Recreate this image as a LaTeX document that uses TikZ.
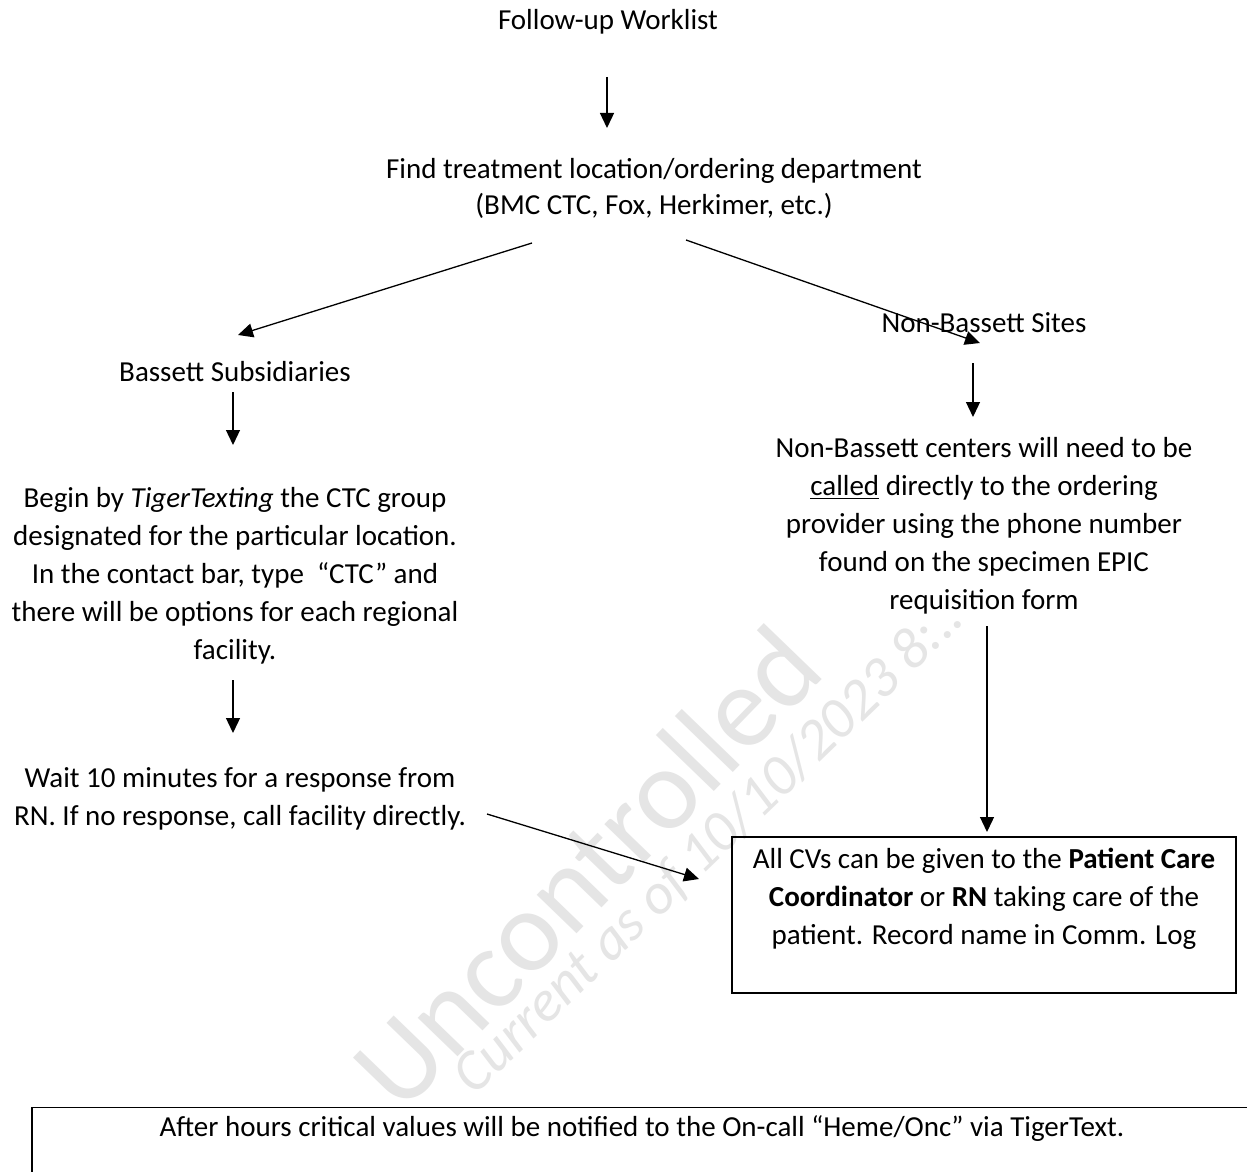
\documentclass[tikz,border=0pt]{standalone}
\usepackage{fontspec}
\setmainfont{Carlito}
\usetikzlibrary{calc,arrows.meta}
\begin{document}
\begin{tikzpicture}[x=0.5pt,y=-0.5pt,
  txt/.style={align=center,inner sep=0pt,font=\fontsize{14.5}{19}\selectfont},
  boxed/.style={draw,line width=0.6pt},
  arr/.style={line width=0.65pt,-{Triangle[length=7.5pt,width=7pt]}},
  wmbig/.style={text=black!10,font=\fontsize{58}{64}\selectfont,inner sep=0pt},
  wmsmall/.style={text=black!10,font=\fontsize{29}{32}\selectfont\itshape,inner sep=0pt}]
\useasboundingbox (0,0) rectangle (1247,1172);
\clip (0,0) rectangle (1247,1172);
\fill[white] (0,0) rectangle (1247,1172);
% watermark
\node[wmbig,rotate=46] (wm1) at (586,867) {Uncontrolled};
\node[wmsmall,rotate=44] (wm2) at (709,847) {Current as of 10/10/2023 8:..};
% nodes
\node[txt] (follow) at (608,22) {Follow-up Worklist};
\node[txt,font=\fontsize{14.5}{18}\selectfont] (find) at (654,188) {Find treatment location/ordering department\\(BMC CTC, Fox, Herkimer, etc.)};
\node[txt] (bass) at (235,372) {Bassett Subsidiaries};
\node[txt] (nons) at (984,323) {Non-Bassett Sites};
\node[txt] (begin) at (235,576) {Begin by \textit{TigerTexting} the CTC group\\designated for the particular location.\\In the contact bar, type~ “CTC” and\\there will be options for each regional\\facility.};
\node[txt] (wait) at (240,799) {Wait 10 minutes for a response from\\RN. If no response, call facility directly.};
\node[txt] (nonc) at (984,526) {Non-Bassett centers will need to be\\\underline{called} directly to the ordering\\provider using the phone number\\found on the specimen EPIC\\requisition form};
\node[txt,boxed,minimum width=252pt,minimum height=78pt] (cv) at (984,915) {All CVs can be given to the \textbf{Patient Care}\\\textbf{Coordinator} or \textbf{RN} taking care of the\\patient. Record name in Comm. Log\\\mbox{}};
\node[txt,boxed,anchor=north,minimum width=610pt,text height=14.5pt,text depth=40pt] (after) at (642,1107) {After hours critical values will be notified to the On-call “Heme/Onc” via TigerText.};
% connectors
\draw[arr] ($(follow)+(-1,55)$) -- ($(find)+(-47,-60)$);
\draw[arr] ($(find)+(-122,55)$) -- ($(bass)+(3,-37)$);
\draw[arr] ($(find)+(32,52)$) -- ($(nons)+(-4,20)$);
\draw[arr] ($(bass)+(-2,20)$) -- ($(begin)+(-2,-131)$);
\draw[arr] ($(begin)+(-2,104)$) -- ($(wait)+(-7,-66)$);
\draw[arr] ($(nons)+(-11,40)$) -- ($(nonc)+(-11,-109)$);
\draw[arr] ($(nonc)+(3,100)$) -- ($(cv)+(3,-83)$);
\draw[arr] ($(wait)+(247,15)$) -- ($(cv)+(-285,-36)$);
\end{tikzpicture}
\end{document}
